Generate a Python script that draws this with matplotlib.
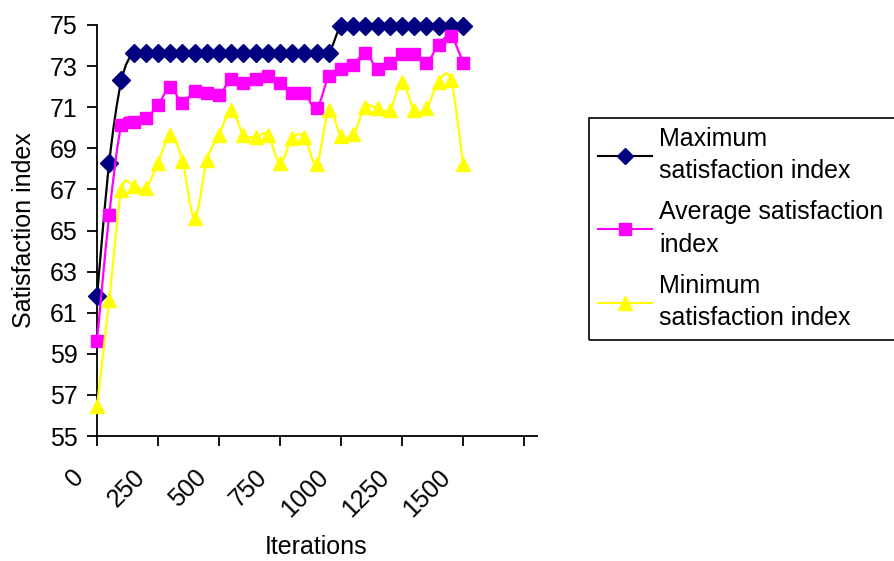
import numpy as np
import matplotlib
matplotlib.use("Agg")
from matplotlib import pyplot as plt
from matplotlib.path import Path
from matplotlib.patches import PathPatch, Rectangle
from matplotlib.lines import Line2D
from matplotlib.transforms import ScaledTranslation

plt.rcParams['font.family'] = ['Liberation Sans', 'DejaVu Sans']

# one sample every 50 iterations
iterations = np.arange(0, 1501, 50)

max_index = [61.8, 68.3, 72.3] + [73.65] * 17 + [74.97] * 11
avg_index = [59.64, 65.75, 70.13, 70.3, 70.46, 71.1, 71.97, 71.22, 71.8, 71.68,
             71.6, 72.36, 72.2, 72.36, 72.5, 72.2, 71.68, 71.68, 70.95, 72.5,
             72.86, 73.05, 73.65, 72.86, 73.17, 73.57, 73.57, 73.17, 74.03, 74.46,
             73.17]
min_index = [56.46, 61.6, 66.97, 67.17, 67.05, 68.3, 69.65, 68.4, 65.6, 68.43,
             69.65, 70.86, 69.65, 69.56, 69.65, 68.3, 69.5, 69.56, 68.22, 70.86,
             69.6, 69.68, 71.02, 70.95, 70.86, 72.24, 70.86, 70.95, 72.24, 72.32,
             68.22]

series_labels = ["Maximum\nsatisfaction index",
                 "Average satisfaction\nindex",
                 "Minimum\nsatisfaction index"]
x_ticks = [0, 250, 500, 750, 1000, 1250, 1500, 1750]
x_ticklabels = ["0", "250", "500", "750", "1000", "1250", "1500", ""]
y_ticks = np.arange(55, 76, 2)

FS = 18


def smooth_path(x, y):
    # bezier curve through the points (excel-style smoothed line)
    pts = np.column_stack([x, y]).astype(float)
    verts = [pts[0]]
    codes = [Path.MOVETO]
    n = len(pts)
    for i in range(n - 1):
        p0 = pts[i - 1] if i > 0 else pts[i]
        p1 = pts[i]
        p2 = pts[i + 1]
        p3 = pts[i + 2] if i + 2 < n else pts[i + 1]
        verts += [p1 + (p2 - p0) / 6.0, p2 - (p3 - p1) / 6.0, p2]
        codes += [Path.CURVE4] * 3
    return Path(verts, codes)


fig = plt.figure(figsize=(8.94, 5.61), dpi=100)
ax = fig.add_axes([97 / 894, 125 / 561, 440 / 894, 411 / 561])

styles = [
    (max_index, "black", "#000080", "D", 9),
    (avg_index, "#FF00FF", "#FF00FF", "s", 9),
    (min_index, "#FFFF00", "#FFFF00", "^", 10.5),
]
handles = []
for k, (vals, lc, mc, mk, ms) in enumerate(styles):
    ax.add_patch(PathPatch(smooth_path(iterations, vals), facecolor="none",
                           edgecolor=lc, lw=1.6, zorder=3 + 2 * k,
                           clip_on=False))
    ax.plot(iterations, vals, ls="none", marker=mk, ms=ms, color=mc,
            mec=mc, zorder=4 + 2 * k, clip_on=False)
    handles.append(Line2D([], [], color=lc, lw=1.5, marker=mk, ms=ms * 0.9,
                          mfc=mc, mec=mc))

# axis line runs a little past the last tick
ax.set_xlim(0, 1803)
ax.set_ylim(55, 75)
ax.set_xticks(x_ticks)
ax.set_xticklabels(x_ticklabels, rotation=45, ha="right", va="center",
                   rotation_mode="anchor", fontsize=FS)
ax.set_yticks(y_ticks)
ax.tick_params(axis="y", labelsize=FS, direction="out", length=7, width=1.3,
               pad=7)
ax.tick_params(axis="x", direction="out", length=7, width=1.3, pad=20)
shift = ScaledTranslation(-12 / 72, 0, fig.dpi_scale_trans)
for lab in ax.get_xticklabels():
    lab.set_transform(lab.get_transform() + shift)

for side in ("top", "right"):
    ax.spines[side].set_visible(False)
for side in ("left", "bottom"):
    ax.spines[side].set_linewidth(1.3)

ax.set_ylabel("Satisfaction index", fontsize=FS)
ax.yaxis.set_label_coords(-61 / 440, 0.5)
ax.set_xlabel("Iterations", fontsize=FS)
ax.xaxis.set_label_coords(219 / 440, -0.241)

# legend box runs off the right edge of the figure
fig.patches.append(Rectangle((589 / 894, 1 - 340 / 561), 0.5, 222 / 561,
                             transform=fig.transFigure, fill=False,
                             edgecolor="black", lw=1.2))
leg = fig.legend(handles, series_labels, loc="upper left",
                 bbox_to_anchor=(589 / 894, 1 - 118 / 561),
                 bbox_transform=fig.transFigure, fontsize=FS, frameon=False,
                 borderaxespad=0, handlelength=2.15, handletextpad=0.3,
                 labelspacing=0.68, borderpad=0.35)
for t in leg.get_texts():
    t.set_linespacing(1.45)

fig.savefig("out.png", dpi=100)
